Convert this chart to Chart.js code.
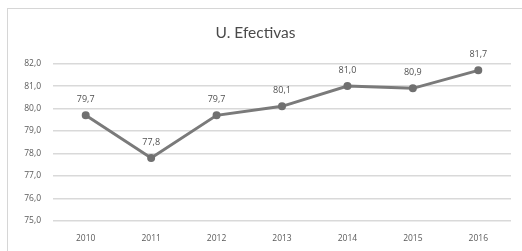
<!DOCTYPE html>
<html><head><meta charset="utf-8">
<script src="https://cdn.jsdelivr.net/npm/chart.js@4"></script>
<style>
html,body{margin:0;padding:0;background:#fff;}
#wrap{position:relative;width:522px;height:251px;overflow:hidden;}
#frame{position:absolute;left:7px;top:8px;width:540px;height:270px;border:1px solid #d6d6d6;box-sizing:border-box;}
canvas{position:absolute;left:0;top:0;}
</style></head>
<body>
<div id="wrap"><div id="frame"></div><canvas id="c" width="522" height="251"></canvas></div>
<script>
const titleText = "U. Efectivas";
const categories = ["2010","2011","2012","2013","2014","2015","2016"];
const values = [79.7, 77.8, 79.7, 80.1, 81.0, 80.9, 81.7];
const yMin = 75, yMax = 82;

const fmt = v => v.toFixed(1).replace('.', ',');

const labelPlugin = {
  id: 'valueLabels',
  afterDatasetsDraw(chart) {
    const ctx = chart.ctx;
    const meta = chart.getDatasetMeta(0);
    ctx.save();
    ctx.font = '9px "Open Sans", sans-serif';
    ctx.fillStyle = '#505050';
    ctx.textAlign = 'center';
    ctx.textBaseline = 'middle';
    meta.data.forEach((pt, i) => {
      ctx.fillText(fmt(values[i]), pt.x, pt.y - 16);
    });
    ctx.restore();
  }
};

new Chart(document.getElementById('c'), {
  type: 'line',
  data: {
    labels: categories,
    datasets: [{
      data: values,
      borderColor: '#7a7a7a',
      backgroundColor: '#7a7a7a',
      borderWidth: 3,
      pointRadius: 2.5,
      pointBackgroundColor: '#707070',
      pointBorderColor: '#707070',
      tension: 0,
      clip: false
    }]
  },
  options: {
    responsive: false,
    animation: false,
    devicePixelRatio: 1,
    layout: { padding: { left: 0, right: 11, top: 0, bottom: 0 } },
    plugins: {
      legend: { display: false },
      tooltip: { enabled: false },
      title: {
        display: true,
        text: titleText,
        color: '#4a4a4a',
        font: { family: 'Lato, "Open Sans", sans-serif', size: 15.5, weight: 'normal' },
        padding: { top: 24, bottom: 21 }
      }
    },
    scales: {
      x: {
        offset: true,
        grid: { display: false, drawTicks: false },
        border: { display: false },
        ticks: { color: '#5a5a5a', font: { family: '"Open Sans", sans-serif', size: 8.5 }, padding: 12, maxRotation: 0 },
        afterFit(s) { s.height = 30; }
      },
      y: {
        min: yMin, max: yMax,
        ticks: { stepSize: 1, color: '#5a5a5a', font: { family: '"Open Sans", sans-serif', size: 8.5 }, padding: 12,
          callback: v => fmt(v) },
        grid: { color: '#d9d9d9', lineWidth: 1.5, drawTicks: false },
        border: { display: false },
        afterFit(s) { s.width = 53; }
      }
    }
  },
  plugins: [labelPlugin]
});
</script>
</body></html>
